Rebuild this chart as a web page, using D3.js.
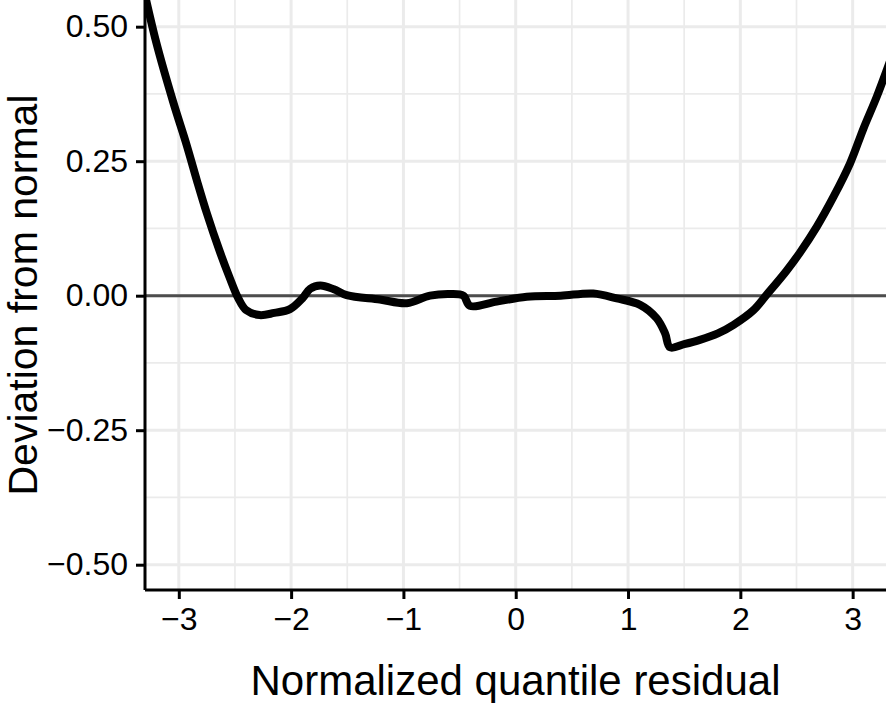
<!DOCTYPE html>
<html>
<head>
<meta charset="utf-8">
<script src="https://cdn.jsdelivr.net/npm/d3@7"></script>
<style>
  body { margin: 0; background: #fff; }
  svg { display: block; font-family: "Liberation Sans", Arial, sans-serif; }
</style>
</head>
<body>
<div id="chart"></div>
<script>
// residual quantile (x) and deviation from the normal line (y)
const quantile = [-3.34, -3.2, -3.05, -2.93, -2.84, -2.75, -2.64, -2.55, -2.47, -2.4, -2.28, -2.15, -2.01,
  -1.9, -1.83, -1.74, -1.62, -1.505, -1.21, -0.97, -0.763, -0.585, -0.467, -0.407, -0.17, 0.098,
  0.4, 0.69, 0.9, 1.107, 1.255, 1.33, 1.374, 1.5, 1.64, 1.8, 1.94, 2.116, 2.235, 2.41, 2.53, 2.68,
  2.83, 2.977, 3.095, 3.215, 3.34];
const deviation = [0.595, 0.47, 0.36, 0.28, 0.215, 0.153, 0.085, 0.035, -0.005, -0.027, -0.036, -0.032, -0.025,
  -0.005, 0.013, 0.019, 0.012, 0.001, -0.007, -0.014, 0.0, 0.003, 0.0, -0.019, -0.011, -0.002,
  0.0, 0.004, -0.005, -0.017, -0.042, -0.07, -0.096, -0.09, -0.082, -0.07, -0.054, -0.027, 0.002,
  0.046, 0.08, 0.128, 0.184, 0.246, 0.31, 0.37, 0.44];

const xTicks = [-3, -2, -1, 0, 1, 2, 3];
const xMinor = [-2.5, -1.5, -0.5, 0.5, 1.5, 2.5];
const yTicks = [-0.5, -0.25, 0, 0.25, 0.5];
const yMinor = [-0.375, -0.125, 0.125, 0.375];

const width = 886, height = 703;
const margin = { top: 0, right: 0, bottom: 113, left: 145 };

const svg = d3.select("#chart").append("svg")
  .attr("width", width)
  .attr("height", height);

const x = d3.scaleLinear()
  .domain([-3.301, 3.297])
  .range([margin.left, width - margin.right]);

const y = d3.scaleLinear()
  .domain([-0.547, 0.5496])
  .range([height - margin.bottom, margin.top]);

const grid = svg.append("g").attr("stroke", "#ebebeb");

// minor grid
grid.selectAll(".vminor").data(xMinor).enter().append("line")
  .attr("x1", d => x(d)).attr("x2", d => x(d))
  .attr("y1", y.range()[1]).attr("y2", y.range()[0])
  .attr("stroke-width", 1.7);
grid.selectAll(".hminor").data(yMinor).enter().append("line")
  .attr("y1", d => y(d)).attr("y2", d => y(d))
  .attr("x1", x.range()[0]).attr("x2", x.range()[1])
  .attr("stroke-width", 1.7);

// major grid
grid.selectAll(".vmajor").data(xTicks).enter().append("line")
  .attr("x1", d => x(d)).attr("x2", d => x(d))
  .attr("y1", y.range()[1]).attr("y2", y.range()[0])
  .attr("stroke-width", 3);
grid.selectAll(".hmajor").data(yTicks).enter().append("line")
  .attr("y1", d => y(d)).attr("y2", d => y(d))
  .attr("x1", x.range()[0]).attr("x2", x.range()[1])
  .attr("stroke-width", 3);

// reference line at zero
svg.append("line")
  .attr("x1", x.range()[0]).attr("x2", x.range()[1])
  .attr("y1", y(0)).attr("y2", y(0))
  .attr("stroke", "#4d4d4d")
  .attr("stroke-width", 3);

svg.append("clipPath").attr("id", "panel")
  .append("rect")
  .attr("x", x.range()[0]).attr("y", y.range()[1])
  .attr("width", x.range()[1] - x.range()[0])
  .attr("height", y.range()[0] - y.range()[1]);

const line = d3.line()
  .x(d => x(d[0]))
  .y(d => y(d[1]))
  .curve(d3.curveCatmullRom.alpha(0.5));

svg.append("path")
  .datum(d3.zip(quantile, deviation))
  .attr("clip-path", "url(#panel)")
  .attr("d", line)
  .attr("fill", "none")
  .attr("stroke", "#000")
  .attr("stroke-width", 8)
  .attr("stroke-linejoin", "round");

// axes
const xAxis = svg.append("g")
  .attr("transform", `translate(0,${y.range()[0]})`)
  .call(d3.axisBottom(x).tickValues(xTicks).tickFormat(d => d < 0 ? "\u2212" + Math.abs(d) : d)
    .tickSize(9).tickPadding(8));
const yAxis = svg.append("g")
  .attr("transform", `translate(${x.range()[0]},0)`)
  .call(d3.axisLeft(y).tickValues(yTicks)
    .tickFormat(d => (d < 0 ? "\u2212" : "") + Math.abs(d).toFixed(2))
    .tickSize(9).tickPadding(8));

[xAxis, yAxis].forEach(g => {
  g.select(".domain").attr("stroke", "#000").attr("stroke-width", 3);
  g.selectAll(".tick line").attr("stroke", "#000").attr("stroke-width", 3);
  g.selectAll(".tick text")
    .attr("fill", "#000")
    .style("font-size", "32px")
    .style("font-family", "'Liberation Sans', Arial, sans-serif");
});
yAxis.select(".domain").attr("d", `M0,${y.range()[0]}V${y.range()[1]}`);
xAxis.select(".domain").attr("d", `M${x.range()[0]},0H${x.range()[1]}`);

svg.append("text")
  .attr("x", (x.range()[0] + x.range()[1]) / 2)
  .attr("y", 695)
  .attr("text-anchor", "middle")
  .style("font-size", "42px")
  .text("Normalized quantile residual");

svg.append("text")
  .attr("transform", `translate(37,${(y.range()[0] + y.range()[1]) / 2}) rotate(-90)`)
  .attr("text-anchor", "middle")
  .style("font-size", "41px")
  .text("Deviation from normal");
</script>
</body>
</html>
